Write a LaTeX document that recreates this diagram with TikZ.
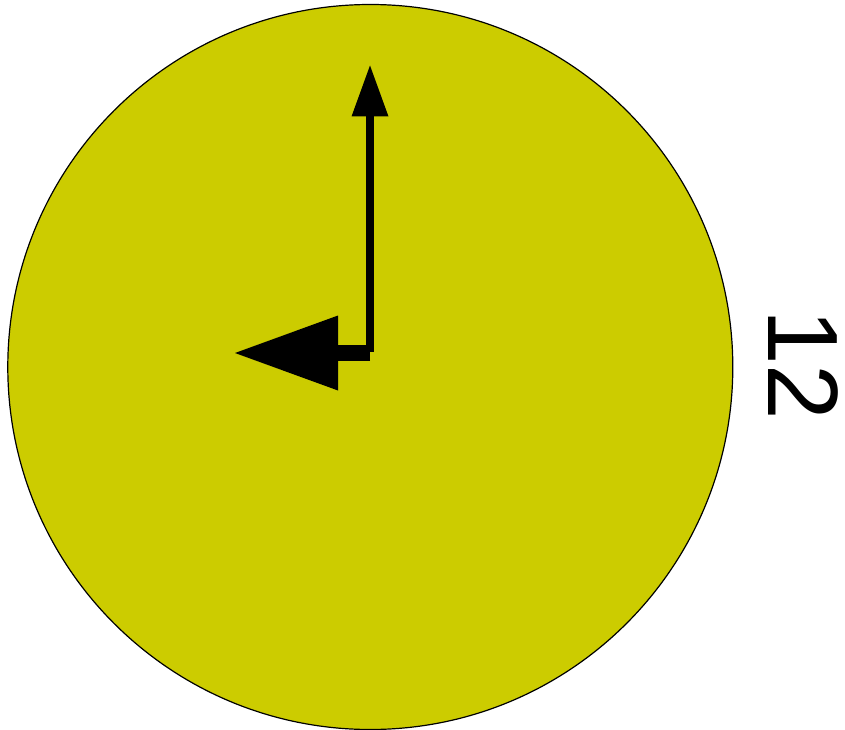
\documentclass[tikz,border=0pt]{standalone}
\usepackage{fontspec}
\setmainfont{Liberation Sans}
\usetikzlibrary{arrows.meta}
\definecolor{faceyellow}{HTML}{CCCC00}
\begin{document}
\begin{tikzpicture}[x = 1pt, y = -1pt,
		face/.style = {draw = black, line width = 1.2pt, fill = faceyellow},
		hand/.style = {draw = black, line cap = butt}]
		\useasboundingbox (0,0) rectangle (845,730);
		\draw[face] (370.3,367) circle [radius = 362.5];
		\coordinate (centre) at (370,353);
		\coordinate (minutetip) at (370,65.5);
		\coordinate (hourtip) at (235,353);
		\draw [hand, line width = 7.5pt, -{Triangle[length = 51pt, width = 37pt, line width = 0pt]}] (370,352) -- (minutetip);
		\draw [hand, line width = 16pt, -{Triangle[length = 103pt, width = 75pt, line width = 0pt]}] (centre) -- (hourtip);
		\node (hours) [rotate = -90, inner sep = 0pt] at (803,365) {\fontsize{100}{100}\selectfont 12};
		%\node (hours) [rotate = -90, anchor = south] at (760,365) {12};
	\end{tikzpicture}
\end{document}
